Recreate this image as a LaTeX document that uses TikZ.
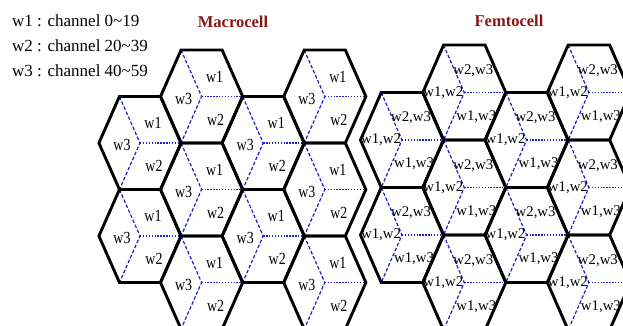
\documentclass[tikz,border=0pt]{standalone}
\usepackage{fontspec}
\setmainfont{Liberation Serif}
\newfontfamily\tallserif[FakeStretch=0.82]{Liberation Serif}
\usepackage{xcolor}
\usepackage{tikz}
\definecolor{CellRed}{HTML}{8B1414}
\definecolor{SectBlue}{HTML}{1E1ECC}
\tikzset{
  cellEdge/.style={draw=black,line width=2.9pt},
  sectDash/.style={draw=SectBlue,line width=1.2pt,dash pattern=on 3.5pt off 2pt},
  sectDot/.style={draw=SectBlue,line width=1.5pt,dash pattern=on 1.4pt off 1.5pt},
  cellLbl/.style={inner sep=0pt,font=\tallserif\fontsize{17}{18}\selectfont},
  femtoLbl/.style={inner sep=0pt,font=\fontsize{14.8}{15}\selectfont},
  titleLbl/.style={text=CellRed,font=\fontsize{16.5}{18}\selectfont\bfseries},
  legendLbl/.style={anchor=west,inner sep=0pt,font=\fontsize{17}{18}\selectfont}
}
% hexagon with three sectors, centre (#1,#2)
\newcommand{\hexcell}[2]{%
  \draw[sectDash] (#1-0.5*\hexs,#2-\hexh) -- (#1,#2) -- (#1-0.5*\hexs,#2+\hexh);
  \draw[sectDot] (#1,#2) -- (#1+\hexs,#2);
  \draw[cellEdge] (#1-\hexs,#2) -- (#1-0.5*\hexs,#2-\hexh) -- (#1+0.5*\hexs,#2-\hexh)
    -- (#1+\hexs,#2) -- (#1+0.5*\hexs,#2+\hexh) -- (#1-0.5*\hexs,#2+\hexh) -- cycle;
}
\newcommand{\macrohex}[3]{%
  \hexcell{#2}{#3}
  \node[cellLbl] (#1w3) at (#2-18,#3+2) {w3};
  \node[cellLbl] (#1w1) at (#2+13,#3-20) {w1};
  \node[cellLbl] (#1w2) at (#2+14,#3+23) {w2};
}
\newcommand{\femtohex}[3]{%
  \hexcell{#2}{#3}
  \node[femtoLbl] (#1a) at (#2-21,#3) {w1,w2};
  \node[femtoLbl] (#1b) at (#2+9,#3-22) {w2,w3};
  \node[femtoLbl] (#1c) at (#2+12,#3+24) {w1,w3};
}
\begin{document}
\begin{tikzpicture}[x=1pt,y=-1pt]
\useasboundingbox (0,0) rectangle (623,325);
\clip (0,0) rectangle (623,325);
% legend and titles
\node[legendLbl] (leg1) at (12,21) {w1 : channel 0\textasciitilde19};
\node[legendLbl] (leg2) at (12,46) {w2 : channel 20\textasciitilde39};
\node[legendLbl] (leg3) at (12,71) {w3 : channel 40\textasciitilde59};
\node[titleLbl] (macroT) at (233,22) {Macrocell};
\node[titleLbl] (femtoT) at (509,21) {Femtocell};
% macrocell cluster
\def\hexs{41.1}\def\hexh{46.5}
\macrohex{ma}{140}{143}
\macrohex{mb}{140}{236}
\macrohex{mc}{201.6}{96.5}
\macrohex{md}{201.6}{189.5}
\macrohex{me}{201.6}{282.5}
\macrohex{mf}{263.2}{143}
\macrohex{mg}{263.2}{236}
\macrohex{mh}{324.8}{96.5}
\macrohex{mi}{324.8}{189.5}
\macrohex{mj}{324.8}{282.5}
% femtocell cluster
\def\hexs{41.5}\def\hexh{47.5}
\femtohex{fa}{402}{140}
\femtohex{fb}{402}{235}
\femtohex{fc}{464.3}{92.5}
\femtohex{fd}{464.3}{187.5}
\femtohex{fe}{464.3}{282.5}
\femtohex{ff}{526.6}{140}
\femtohex{fg}{526.6}{235}
\femtohex{fh}{588.9}{92.5}
\femtohex{fi}{588.9}{187.5}
\femtohex{fj}{588.9}{282.5}
\end{tikzpicture}
\end{document}
